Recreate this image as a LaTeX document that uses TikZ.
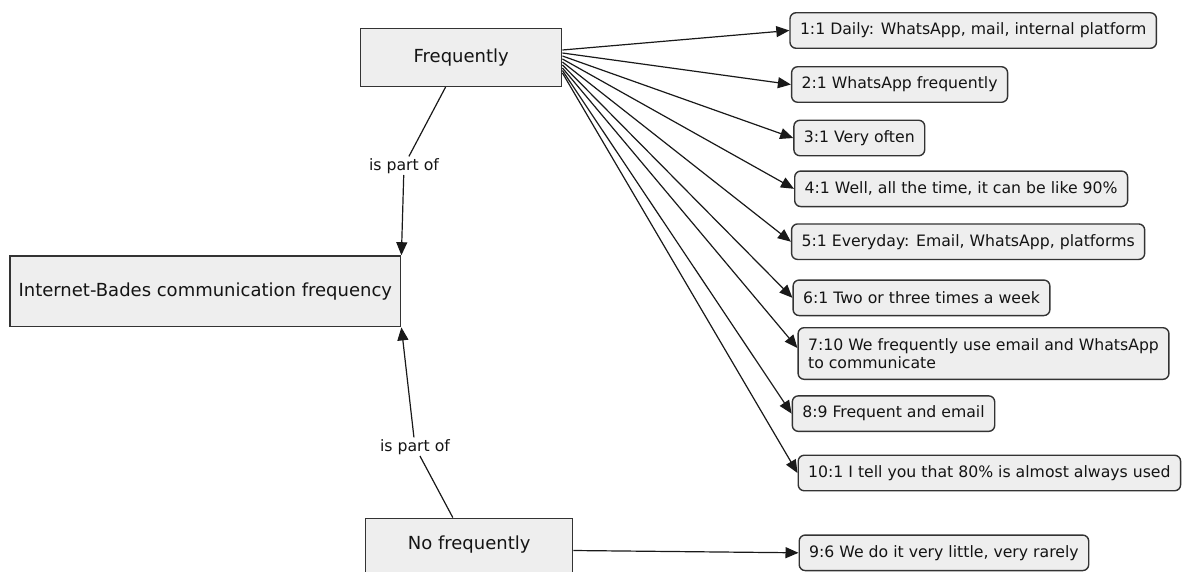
\documentclass[tikz,border=0pt]{standalone}
\usepackage{fontspec}
\setmainfont{DejaVu Sans}
\usetikzlibrary{arrows.meta}
\definecolor{boxfill}{HTML}{EEEEEE}
\definecolor{boxline}{HTML}{333333}
\definecolor{ink}{HTML}{141414}

\begin{document}
\begin{tikzpicture}[x=1pt,y=-1pt,
  concept/.style={draw=boxline, line width=1.5pt, fill=boxfill, text=ink,
    font=\fontsize{18}{21}\selectfont, inner sep=0pt},
  quote/.style={draw=boxline, line width=1.4pt, fill=boxfill, rounded corners=6pt,
    text=ink, font=\fontsize{15.7}{18.3}\selectfont, anchor=west, align=left,
    inner xsep=10pt, inner ysep=4pt, minimum height=35.5pt},
  link/.style={draw=black!90, line width=1.2pt},
  arr/.style={link, -{Triangle[length=13pt,width=11pt]}},
  rel/.style={text=ink, font=\fontsize{15.7}{18.3}\selectfont, inner sep=1.5pt}
]
\useasboundingbox (0,0) rectangle (1182,571);

% concepts
\node[concept, minimum width=201pt, minimum height=57.6pt] (freq) at (461.2,57.5) {Frequently};
\node[concept, minimum width=390.7pt, minimum height=70.7pt] (inet) at (205.3,291.3) {Internet-Bades communication frequency};
\node[concept, minimum width=207pt, minimum height=60pt, text depth=12.2pt] (nofreq) at (469.2,548.3) {No frequently};

% quotations
\node[quote] (q1) at (789.3,30.5) {1:1 Daily: WhatsApp, mail, internal platform};
\node[quote] (q2) at (790.9,84.5) {2:1 WhatsApp frequently};
\node[quote] (q3) at (793.2,138) {3:1 Very often};
\node[quote] (q4) at (794,188.8) {4:1 Well, all the time, it can be like 90\%};
\node[quote] (q5) at (790.9,241.7) {5:1 Everyday: Email, WhatsApp, platforms};
\node[quote] (q6) at (792.4,297.8) {6:1 Two or three times a week};
\node[quote, minimum height=51.6pt] (q7) at (797.4,353.5) {7:10 We frequently use email and WhatsApp\\to communicate};
\node[quote] (q8) at (791.6,413.6) {8:9 Frequent and email};
\node[quote] (q10) at (797.5,473) {10:1 I tell you that 80\% is almost always used};
\node[quote] (q9) at (798.5,552.8) {9:6 We do it very little, very rarely};

% relation labels
\node[rel] (l1) at (404,165.7) {is part of};
\node[rel] (l2) at (415,446.7) {is part of};

% links
\draw[link] (freq) -- (l1);
\draw[arr] (l1) -- (inet.north east);
\draw[link] (nofreq) -- (l2);
\draw[arr] (l2) -- (inet.south east);

\foreach \t/\s in {q1/7.5, q2/4.5, q3/1.5, q4/-1.5, q5/-4.5, q6/-7.5, q8/-13, q10/-15.5}
  \draw[arr] ([yshift=\s pt]freq.east) -- (\t.west);
\draw[arr] ([yshift=-10.5pt]freq.east) -- ([yshift=5.5pt]q7.west);
\draw[arr] ([yshift=-2.2pt]nofreq.east) -- (q9.west);
\end{tikzpicture}
\end{document}
